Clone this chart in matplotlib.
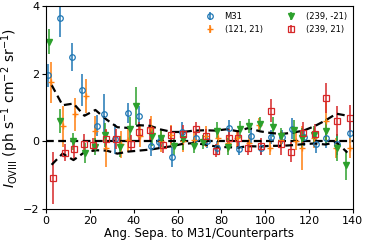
import matplotlib
matplotlib.use('Agg')
import matplotlib.pyplot as plt
import numpy as np

# bin centres of the dashed envelope curves
sep = [2.5, 7.5, 12.5, 17.5, 22.5, 27.5, 32.5, 37.5, 42.5, 47.5, 52.5, 57.5, 62.5, 67.5,
       72.5, 77.5, 82.5, 87.5, 92.5, 97.5, 102.5, 107.5, 112.5, 117.5, 122.5, 127.5, 132.5, 137.5]
upper = [1.67, 1.07, 1.12, 0.76, 0.93, 0.65, 0.42, 0.40, 0.48, 0.46, 0.35, 0.28, 0.28, 0.32,
         0.33, 0.32, 0.36, 0.30, 0.40, 0.30, 0.25, 0.22, 0.26, 0.32, 0.45, 0.62, 0.82, 0.76]
lower = [-0.69, -0.36, -0.55, -0.32, -0.26, -0.27, -0.36, -0.30, -0.27, -0.24, -0.19, -0.14, -0.07, -0.05,
         -0.09, -0.15, -0.17, -0.18, -0.14, -0.15, -0.13, -0.13, -0.11, -0.08, -0.06, -0.09, -0.02, -0.33]

# M31
m31_x = [1.0, 6.4, 12.0, 16.3, 23.1, 26.6, 31.5, 37.6, 42.2, 47.8, 51.7, 57.5, 62.0, 68.5,
         73.5, 78.0, 83.3, 88.0, 93.3, 98.2, 102.7, 107.5, 112.3, 117.8, 123.0, 127.6, 132.9, 138.5]
m31_y = [1.95, 3.65, 2.50, 1.52, 0.47, 0.80, 0.08, 0.84, 0.74, -0.14, -0.03, -0.45, 0.28, 0.10,
         0.02, -0.20, 0.39, -0.21, 0.16, -0.19, 0.13, 0.13, 0.38, 0.12, -0.09, 0.11, -0.09, 0.26]
m31_e = [0.33, 0.55, 0.42, 0.48, 0.30, 0.60, 0.45, 0.30, 0.30, 0.30, 0.20, 0.30, 0.30, 0.20,
         0.20, 0.20, 0.25, 0.20, 0.25, 0.20, 0.20, 0.20, 0.30, 0.25, 0.25, 0.30, 0.30, 0.30]

# (121, 21)
c121_x = [2.4, 7.8, 13.1, 18.4, 22.3, 27.4, 34.3, 37.2, 43.0, 47.8, 52.3, 57.2, 62.5, 67.3,
          73.0, 78.4, 82.8, 87.3, 92.5, 97.4, 102.2, 107.3, 114.0, 117.0, 122.3, 127.9, 132.4, 138.7]
c121_y = [1.75, 0.45, 0.80, 1.35, 0.30, -0.20, -0.09, 0.05, 0.15, 0.40, 0.00, 0.20, 0.00, 0.05,
          0.15, 0.10, -0.05, 0.10, -0.05, 0.50, -0.20, 0.05, 0.00, -0.20, 0.10, 0.60, -0.19, -0.20]
c121_e = [0.60, 0.60, 0.48, 0.50, 0.45, 0.55, 0.40, 0.35, 0.30, 0.35, 0.30, 0.30, 0.30, 0.25,
          0.30, 0.30, 0.25, 0.25, 0.25, 0.20, 0.20, 0.25, 0.25, 0.65, 0.30, 0.60, 0.30, 0.30]

# (239, -21)
c239s_x = [1.4, 6.4, 12.2, 17.8, 22.5, 27.0, 33.8, 38.2, 41.1, 48.4, 52.6, 58.3, 62.7, 67.6,
           71.5, 78.0, 83.0, 88.3, 92.4, 97.5, 103.5, 107.0, 113.1, 116.9, 122.5, 127.9, 132.6, 136.7]
c239s_y = [2.94, 0.61, 0.00, -0.34, -0.15, 0.20, -0.15, 0.38, 1.05, 0.17, 0.10, -0.14, 0.06, -0.14,
           -0.02, 0.31, -0.16, 0.36, 0.46, 0.53, 0.43, 0.15, 0.33, 0.11, 0.20, 0.31, -0.19, -0.69]
c239s_e = [0.37, 0.35, 0.25, 0.30, 0.25, 0.35, 0.30, 0.35, 0.55, 0.30, 0.25, 0.25, 0.30, 0.20,
           0.20, 0.25, 0.25, 0.25, 0.20, 0.20, 0.30, 0.25, 0.30, 0.30, 0.25, 0.35, 0.40, 0.45]

# (239, 21)
c239n_x = [3.0, 8.7, 12.5, 17.3, 21.3, 27.2, 32.0, 38.7, 42.6, 47.5, 53.2, 57.0, 62.7, 68.3,
           73.0, 77.6, 83.3, 87.5, 92.1, 98.2, 102.7, 107.0, 111.6, 117.4, 122.7, 127.6, 132.6, 138.5]
c239n_y = [-1.08, -0.34, -0.22, -0.07, -0.11, 0.08, 0.08, -0.07, 0.28, 0.35, -0.10, 0.20, 0.23, 0.36,
           0.16, -0.27, 0.11, 0.09, -0.19, -0.14, 0.91, -0.09, -0.31, 0.26, 0.21, 1.28, 0.61, 0.69]
c239n_e = [0.77, 0.25, 0.30, 0.30, 0.20, 0.30, 0.30, 0.25, 0.30, 0.30, 0.25, 0.25, 0.25, 0.20,
           0.20, 0.20, 0.25, 0.25, 0.20, 0.25, 0.35, 0.30, 0.30, 0.30, 0.30, 0.45, 0.45, 0.40]

fig = plt.figure(figsize=(3.66, 2.44), dpi=100)
ax = fig.add_axes([0.126, 0.143, 0.838, 0.832])

ax.errorbar(m31_x, m31_y, yerr=m31_e, fmt='o', color='C0', mfc='none', ms=4, mew=0.9,
            elinewidth=1.1, capsize=0, label='M31')
ax.errorbar(c121_x, c121_y, yerr=c121_e, fmt='+', color='C1', ms=5, mew=1.0,
            elinewidth=1.1, capsize=0, label='(121, 21)')
ax.errorbar(c239s_x, c239s_y, yerr=c239s_e, fmt='v', color='C2', ms=4,
            elinewidth=1.1, capsize=0, label='(239, -21)')
ax.errorbar(c239n_x, c239n_y, yerr=c239n_e, fmt='s', color='C3', mfc='none', ms=4, mew=0.9,
            elinewidth=1.1, capsize=0, label='(239, 21)')

ax.axhline(0, color='k', ls=(0, (3.5, 2)), lw=1.6)
ax.plot(sep, upper, color='k', ls=(0, (3.5, 2)), lw=1.6)
ax.plot(sep, lower, color='k', ls=(0, (3.5, 2)), lw=1.6)

ax.set_xlim(0, 140)
ax.set_ylim(-2, 4)
ax.set_xticks([0, 20, 40, 60, 80, 100, 120, 140])
ax.set_yticks([-2, 0, 2, 4])
ax.tick_params(labelsize=8, length=3, pad=2)
ax.set_xlabel('Ang. Sepa. to M31/Counterparts', fontsize=8.5, labelpad=1)
ax.set_ylabel(r'$I_{\rm OVIII}$ (ph s$^{-1}$ cm$^{-2}$ sr$^{-1}$)', fontsize=10, labelpad=1)

ax.legend(ncol=2, loc='upper right', frameon=False, fontsize=6, handlelength=1.2,
          columnspacing=2.8, handletextpad=1.2, borderaxespad=0.3, labelspacing=0.5)

plt.savefig('out.png', dpi=100)
